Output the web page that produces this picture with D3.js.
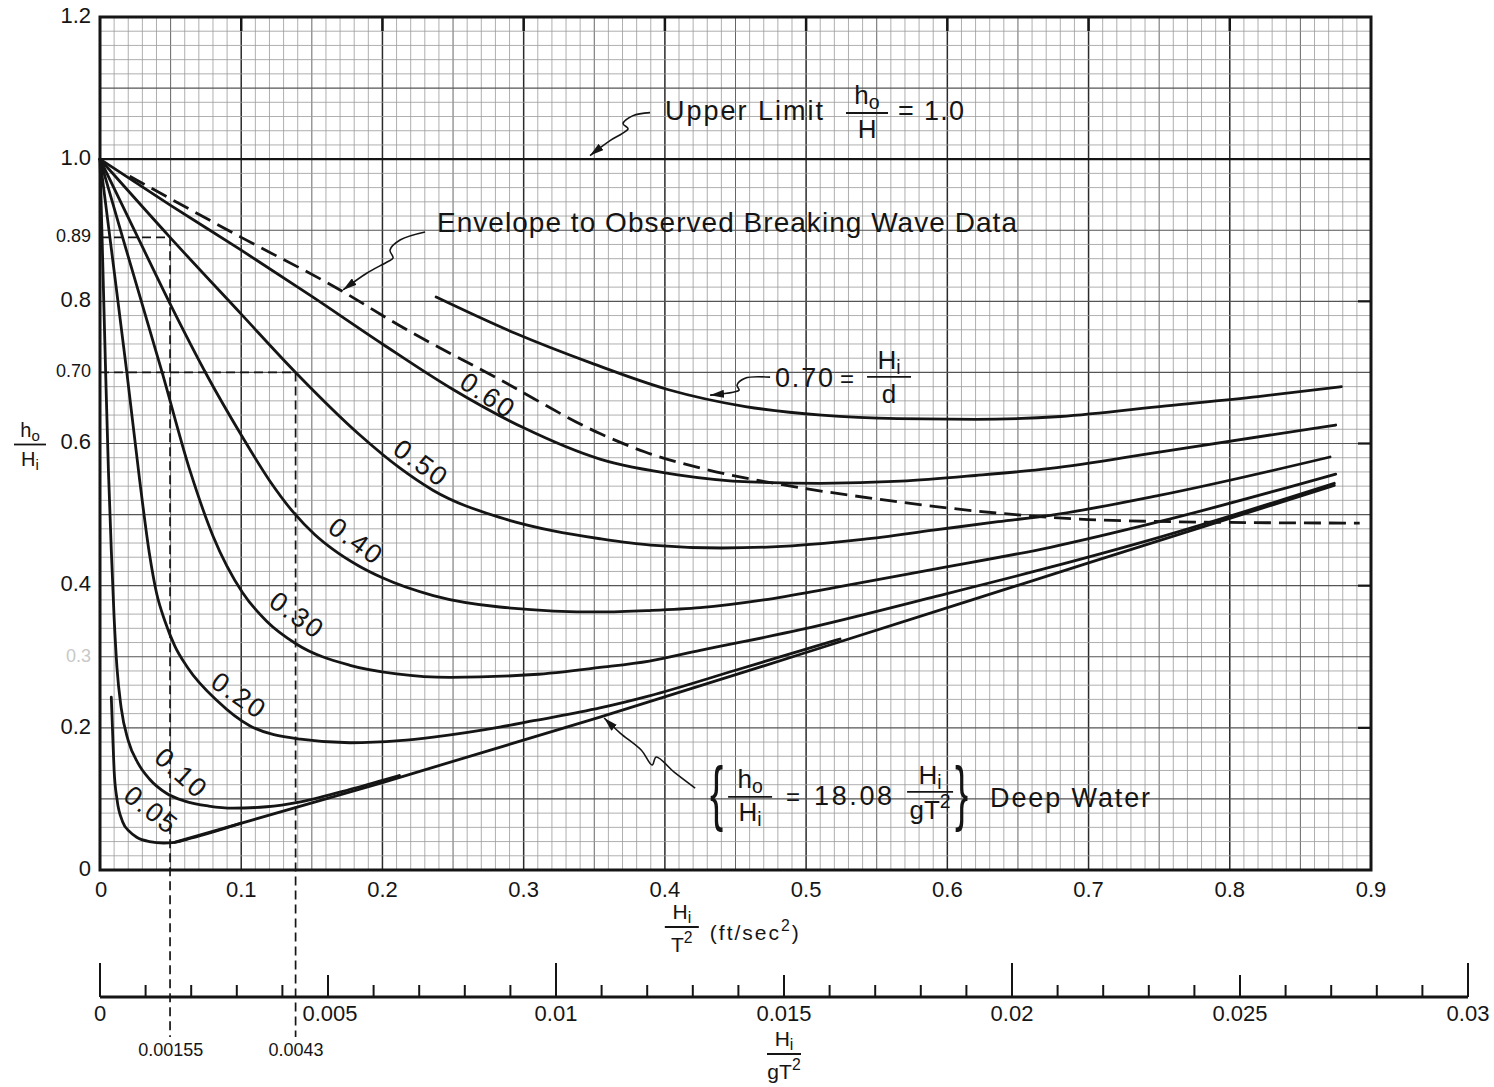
<!DOCTYPE html>
<html><head><meta charset="utf-8">
<script src="https://cdn.jsdelivr.net/npm/d3@7"></script>
<style>body{margin:0;background:#fff}svg{display:block}</style>
</head><body>
<svg id="c" width="1494" height="1087"></svg>
<script>
// ---------------- DATA ----------------
const xTickValues = [0,0.1,0.2,0.3,0.4,0.5,0.6,0.7,0.8,0.9];
const xTickLabels = ["0","0.1","0.2","0.3","0.4","0.5","0.6","0.7","0.8","0.9"];
const yTickValues = [1.2,1.0,0.89,0.8,0.70,0.6,0.4,0.3,0.2,0];
const yTickLabels = ["1.2","1.0","0.89","0.8","0.70","0.6","0.4","0.3","0.2","0"];
const yTickSmall  = [false,false,true,false,true,false,false,true,false,false];
const bTickValues = [0,0.005,0.01,0.015,0.02,0.025,0.03];
const bTickLabels = ["0","0.005","0.01","0.015","0.02","0.025","0.03"];
const refX = [0.0496,0.1385];          // Hi/T^2
const refY = [0.89,0.70];              // ho/Hi
const refB = [0.00155,0.0043];         // Hi/gT^2
const refLabels = ["0.00155","0.0043"];

const curveNames = ["0.05","0.10","0.20","0.30","0.40","0.50","0.60"];
const c005 = [[0.008,0.243],[0.009,0.19],[0.010,0.14],[0.012,0.10],[0.016,0.068],[0.021,0.054],[0.026,0.046],[0.035,0.040],[0.045,0.038],[0.053,0.039],[0.065,0.045],[0.1,0.066]];
const c010 = [[0,1],[0.002,0.85],[0.004,0.70],[0.006,0.56],[0.008,0.45],[0.010,0.355],[0.012,0.285],[0.015,0.228],[0.02,0.182],[0.027,0.150],[0.035,0.128],[0.047,0.108],[0.06,0.097],[0.077,0.090],[0.094,0.087],[0.118,0.089],[0.142,0.096],[0.18,0.115],[0.212,0.133]];
const c020 = [[0,1],[0.007,0.89],[0.019,0.70],[0.028,0.55],[0.035,0.445],[0.040,0.39],[0.046,0.35],[0.053,0.315],[0.062,0.285],[0.083,0.238],[0.106,0.203],[0.142,0.184],[0.177,0.179],[0.212,0.182],[0.236,0.187],[0.283,0.201],[0.307,0.210],[0.354,0.228],[0.389,0.245],[0.45,0.281],[0.524,0.325]];
const c030 = [[0,1],[0.016,0.89],[0.044,0.70],[0.064,0.56],[0.08,0.47],[0.101,0.39],[0.118,0.350],[0.139,0.318],[0.177,0.288],[0.21,0.276],[0.248,0.271],[0.307,0.275],[0.354,0.285],[0.389,0.294],[0.425,0.309],[0.496,0.338],[0.59,0.384],[0.673,0.426],[0.75,0.468],[0.874,0.544]];
const c040 = [[0,1],[0.028,0.885],[0.05,0.795],[0.076,0.695],[0.1,0.612],[0.12,0.548],[0.137,0.503],[0.152,0.472],[0.165,0.451],[0.183,0.428],[0.2,0.411],[0.236,0.386],[0.283,0.370],[0.354,0.363],[0.389,0.365],[0.425,0.369],[0.47,0.38],[0.519,0.397],[0.59,0.423],[0.673,0.454],[0.75,0.49],[0.875,0.557]];
const c050 = [[0,1],[0.0496,0.89],[0.1,0.782],[0.1385,0.70],[0.184,0.612],[0.212,0.566],[0.236,0.534],[0.283,0.496],[0.321,0.477],[0.354,0.466],[0.39,0.457],[0.44,0.453],[0.49,0.456],[0.54,0.465],[0.59,0.478],[0.636,0.490],[0.673,0.499],[0.75,0.527],[0.871,0.581]];
const c060 = [[0,1],[0.05,0.935],[0.1,0.872],[0.15,0.807],[0.2,0.740],[0.25,0.676],[0.3,0.622],[0.354,0.578],[0.409,0.556],[0.46,0.546],[0.51,0.544],[0.567,0.547],[0.62,0.555],[0.673,0.565],[0.75,0.588],[0.875,0.626]];
const c070 = [[0.238,0.806],[0.294,0.755],[0.348,0.713],[0.402,0.676],[0.457,0.652],[0.511,0.640],[0.565,0.635],[0.62,0.634],[0.68,0.638],[0.755,0.653],[0.82,0.666],[0.879,0.680]];
const deepWater = [[0.053,0.039],[0.2,0.123],[0.354,0.215],[0.5,0.306],[0.7,0.432],[0.874,0.541]];
const envelope = [[0.021,0.976],[0.1,0.890],[0.17,0.816],[0.212,0.766],[0.283,0.690],[0.354,0.614],[0.386,0.588],[0.43,0.563],[0.486,0.541],[0.55,0.522],[0.636,0.502],[0.70,0.493],[0.80,0.489],[0.892,0.488]];
const upperLimit = [[0,1],[0.9,1]];
// curve label anchors (data units) and angle
const labelPos = [[0.0354,0.082],[0.0567,0.134],[0.0977,0.243],[0.1388,0.356],[0.1806,0.460],[0.2266,0.570],[0.274,0.665]];
const labelAngle = [38,42,35,36,36,36,34];

// ---------------- LAYOUT ----------------
const svg = d3.select("#c");
const x = d3.scaleLinear().domain([0,0.9]).range([100,1371]);
const y = d3.scaleLinear().domain([0,1.2]).range([870,17]);
const xb = d3.scaleLinear().domain([0,0.03]).range([100,1468]);
const bAxisY = 997;
const FONT = "'Liberation Sans','DejaVu Sans',Arial,sans-serif";
const NARROW = "'Liberation Sans Narrow','Liberation Sans',Arial,sans-serif";
const ink = "#151515";

// ---- grid ----
const grid = svg.append("g");
d3.range(0,91).forEach(i=>{
  const v=i/100;
  const major = i%10===0, mid = i%5===0;
  grid.append("line").attr("x1",x(v)).attr("x2",x(v)).attr("y1",y(0)).attr("y2",y(1.2))
    .attr("stroke", major?"#2a2a2a":mid?"#666":"#9a9a9a")
    .attr("stroke-width", major?1.5:mid?1.0:0.8);
});
d3.range(0,61).forEach(j=>{
  const v=j/50;
  const mid = j%5===0;
  grid.append("line").attr("x1",x(0)).attr("x2",x(0.9)).attr("y1",y(v)).attr("y2",y(v))
    .attr("stroke", mid?"#555":"#9a9a9a").attr("stroke-width", mid?1.1:0.8);
});
// top & right inward ticks
xTickValues.slice(1,9).forEach(v=>{
  svg.append("line").attr("x1",x(v)).attr("x2",x(v)).attr("y1",y(1.2)).attr("y2",y(1.2)+14)
    .attr("stroke",ink).attr("stroke-width",2.5);
});
[0.2,0.4,0.6,0.8].forEach(v=>{
  svg.append("line").attr("x1",x(0.9)-13).attr("x2",x(0.9)).attr("y1",y(v)).attr("y2",y(v))
    .attr("stroke",ink).attr("stroke-width",2.2);
});

// ---- reference dashed lines ----
const refG = svg.append("g").attr("stroke",ink).attr("stroke-width",1.7).attr("stroke-dasharray","9,5").attr("fill","none");
refX.forEach((v,i)=>{
  refG.append("line").attr("x1",x(0)).attr("x2",x(v)).attr("y1",y(refY[i])).attr("y2",y(refY[i]));
  refG.append("line").attr("x1",x(v)).attr("x2",x(v)).attr("y1",y(refY[i])).attr("y2",bAxisY+40);
});

// ---- curves ----
const line = d3.line().x(d=>x(d[0])).y(d=>y(d[1])).curve(d3.curveMonotoneX);
const cg = svg.append("g").attr("fill","none").attr("stroke",ink).attr("stroke-width",2.8).attr("stroke-linecap","round");
[c005,c010,c020,c030,c040,c050,c060,c070,deepWater].forEach(c=>cg.append("path").attr("d",line(c)));
cg.append("path").attr("d",line(envelope)).attr("stroke-dasharray","17,8").attr("stroke-linecap","butt");
cg.append("path").attr("d",d3.line().x(d=>x(d[0])).y(d=>y(d[1]))(upperLimit)).attr("stroke-width",2.4);

// ---- plot border ----
svg.append("rect").attr("x",x(0)).attr("y",y(1.2)).attr("width",x(0.9)-x(0)).attr("height",y(0)-y(1.2))
  .attr("fill","none").attr("stroke",ink).attr("stroke-width",3);

// ---- curve labels ----
curveNames.forEach((n,i)=>{
  const [lx,ly]=labelPos[i];
  svg.append("text").attr("transform",`translate(${x(lx)},${y(ly)}) rotate(${labelAngle[i]})`)
    .attr("text-anchor","middle").attr("dominant-baseline","middle")
    .attr("font-family",FONT).attr("font-size",27).attr("letter-spacing",2).attr("fill",ink).text(n);
});

// ---- tick labels ----
xTickValues.forEach((v,i)=>{
  svg.append("text").attr("x",x(v)+(i===0?1:0)).attr("y",y(0)+27).attr("text-anchor","middle")
    .attr("font-family",NARROW).attr("font-size",22).attr("fill",ink).text(xTickLabels[i]);
});
yTickValues.forEach((v,i)=>{
  const small=yTickSmall[i];
  svg.append("text").attr("x",x(0)-9).attr("y",y(v)).attr("text-anchor","end").attr("dominant-baseline","middle")
    .attr("font-family",NARROW).attr("font-size",small?18:22)
    .attr("fill", v===0.3?"#c8c8c8":ink).text(yTickLabels[i]);
});

// ---- rich text helper ----
function rich(sel, parts, size){
  let shift=0;
  parts.forEach(([t,k])=>{
    const target = k==="sub"? size*0.2 : k==="sup"? -size*0.42 : 0;
    sel.append("tspan").attr("dy",target-shift).attr("font-size",k?size*0.75:size).text(t);
    shift=target;
  });
  return sel;
}
function frac(g, cx, num, den, lineY, halfW, numDy, denDy, size){
  rich(g.append("text").attr("x",cx).attr("y",lineY+numDy).attr("text-anchor","middle")
    .attr("font-family",FONT).attr("font-size",size).attr("fill",ink), num, size);
  g.append("line").attr("x1",cx-halfW).attr("x2",cx+halfW).attr("y1",lineY).attr("y2",lineY)
    .attr("stroke",ink).attr("stroke-width",1.8);
  rich(g.append("text").attr("x",cx).attr("y",lineY+denDy).attr("text-anchor","middle")
    .attr("font-family",FONT).attr("font-size",size).attr("fill",ink), den, size);
}

// ---- axis titles ----
frac(svg.append("g"), x(0)-70, [["h"],["o","sub"]], [["H"],["i","sub"]], y(0.6)+1, 16, -8, 21, 20);
const xt = svg.append("g");
frac(xt, x(0.412), [["H"],["i","sub"]], [["T"],["2","sup"]], y(0)+57, 17, -8, 25, 21);
rich(xt.append("text").attr("x",x(0.412)+28).attr("y",y(0)+70).attr("font-family",FONT).attr("font-size",21).attr("fill",ink).attr("letter-spacing",2),
  [["(ft/sec"],["2","sup"],[")"]], 21);

// ---- bottom axis ----
const bg = svg.append("g");
bg.append("line").attr("x1",xb(0)).attr("x2",xb(0.03)).attr("y1",bAxisY).attr("y2",bAxisY).attr("stroke",ink).attr("stroke-width",3);
d3.range(0,31).forEach(i=>{
  const v=i/1000, h = i%10===0?34:(i%5===0?22:12);
  bg.append("line").attr("x1",xb(v)).attr("x2",xb(v)).attr("y1",bAxisY).attr("y2",bAxisY-h).attr("stroke",ink).attr("stroke-width",2);
});
bTickValues.forEach((v,i)=>{
  bg.append("text").attr("x",xb(v)+(i===1?2:0)).attr("y",bAxisY+24).attr("text-anchor","middle")
    .attr("font-family",NARROW).attr("font-size",22).attr("fill",ink).text(bTickLabels[i]);
});
refB.forEach((v,i)=>{
  bg.append("text").attr("x",xb(v)).attr("y",bAxisY+59).attr("text-anchor","middle")
    .attr("font-family",NARROW).attr("font-size",18).attr("fill",ink).text(refLabels[i]);
});
frac(bg, xb(0.015), [["H"],["i","sub"]], [["gT"],["2","sup"]], bAxisY+57, 17, -8, 25, 21);

// ---- annotations ----
const defs = svg.append("defs");
defs.append("marker").attr("id","ah").attr("viewBox","0 0 14 8").attr("refX",14).attr("refY",4)
  .attr("markerWidth",14).attr("markerHeight",8).attr("markerUnits","userSpaceOnUse").attr("orient","auto")
  .append("path").attr("d","M0,0 L14,4 L0,8 Z").attr("fill",ink);
const squig = d3.line().curve(d3.curveCatmullRom.alpha(0.5));
function leader(tip, offs){
  const tx=x(tip[0]), ty=y(tip[1]);
  svg.append("path").attr("d",squig(offs.map(o=>[tx+o[0],ty+o[1]]).concat([[tx,ty]])))
    .attr("fill","none").attr("stroke",ink).attr("stroke-width",1.6).attr("marker-end","url(#ah)");
}
const annTips = [[0.347,1.005],[0.1721,0.816],[0.432,0.668],[0.357,0.2138]];
leader(annTips[0], [[60,-43],[43,-40],[33,-32],[38,-27],[32,-22],[20,-15]]);
leader(annTips[1], [[82,-58],[57,-50],[47,-40],[50,-32],[44,-28],[24,-17]]);
leader(annTips[2], [[60,-18],[35,-17],[27,-10],[29,-5],[23,-3]]);
leader(annTips[3], [[91,70],[70,54],[52,39],[48,47],[37,32],[16,15]]);

function tx(g, dx, dy, str, size, len){
  const t=g.append("text").attr("x",dx).attr("y",dy).attr("font-family",FONT).attr("font-size",size).attr("fill",ink).text(str);
  if(len) t.attr("textLength",len).attr("lengthAdjust","spacing");
  return t;
}
// Upper limit
const a1 = svg.append("g").attr("transform",`translate(${x(0.4001)},${y(1.0551)})`);
tx(a1,0,0,"Upper Limit",27,158);
frac(a1, 202, [["h"],["o","sub"]], [["H"]], -7, 21, -9, 25, 26);
tx(a1,233,0,"= 1.0",27,66);
// Envelope
const a2 = svg.append("g").attr("transform",`translate(${x(0.2386)},${y(0.8975)})`);
tx(a2,0,0,"Envelope to Observed Breaking Wave Data",28,580);
// 0.70 = Hi/d
const a3 = svg.append("g").attr("transform",`translate(${x(0.478)},${y(0.6796)})`);
tx(a3,0,0,"0.70",27,58);
tx(a3,65,0,"=",24);
frac(a3, 114, [["H"],["i","sub"]], [["d"]], -10, 22, -8, 26, 26);
// Deep water
const a4 = svg.append("g").attr("transform",`translate(${x(0.432)},${y(0.0943)})`);
a4.append("text").attr("transform","translate(0,14) scale(0.55,1)").attr("font-family",FONT).attr("font-size",72).attr("fill",ink).text("{");
frac(a4, 40, [["h"],["o","sub"]], [["H"],["i","sub"]], -6, 22, -9, 24, 26);
tx(a4,76,2,"=",24);
tx(a4,104,2,"18.08",27,78);
frac(a4, 220, [["H"],["i","sub"]], [["gT"],["2","sup"]], -11, 23, -8, 27, 26);
a4.append("text").attr("transform","translate(245,14) scale(0.55,1)").attr("font-family",FONT).attr("font-size",72).attr("fill",ink).text("}");
tx(a4,280,4,"Deep Water",27,160);
</script>
</body></html>
